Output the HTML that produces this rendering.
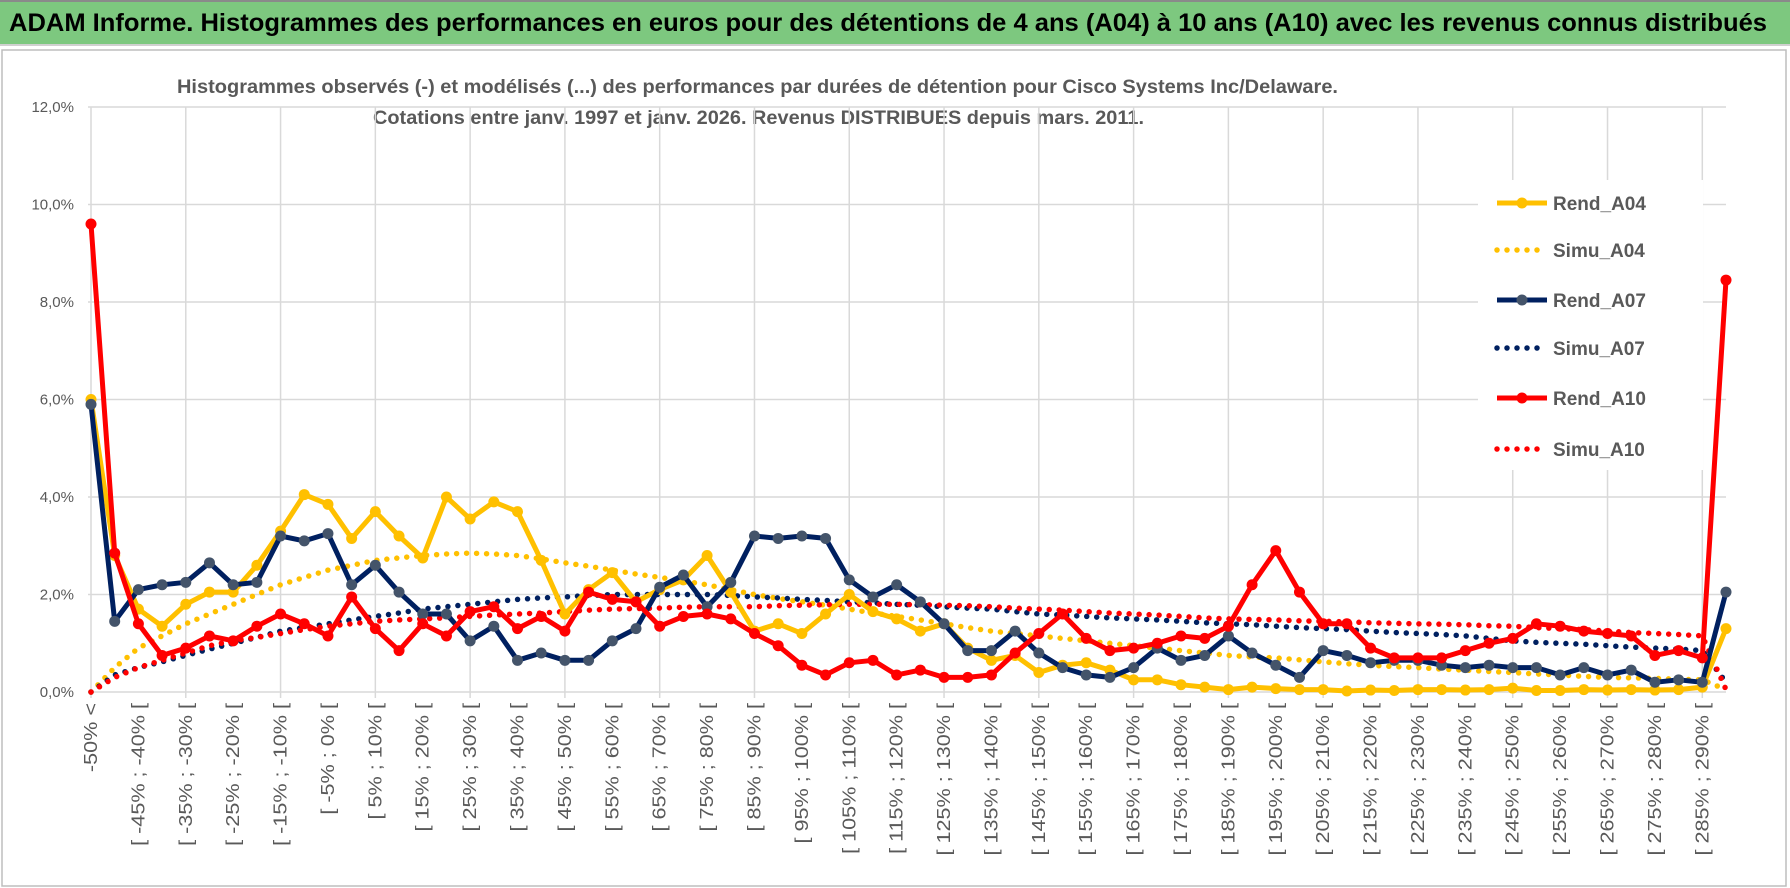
<!DOCTYPE html>
<html><head><meta charset="utf-8"><style>
html,body{margin:0;padding:0;background:#fff}
svg{display:block}
text{font-family:"Liberation Sans",sans-serif}
</style></head><body>
<svg id="chart" width="1790" height="888" viewBox="0 0 1790 888" xmlns="http://www.w3.org/2000/svg">
<rect x="0" y="0" width="1790" height="888" fill="#fff"/>
<rect x="0" y="0" width="1790" height="44" fill="#7DC87F"/>
<line x1="0" y1="1" x2="1790" y2="1" stroke="#8a8a8a" stroke-width="2"/>
<line x1="0" y1="45" x2="1790" y2="45" stroke="#d0d0d0" stroke-width="2"/>
<text x="9" y="31" font-size="25" font-weight="bold" fill="#000" textLength="1758" lengthAdjust="spacingAndGlyphs">ADAM Informe. Histogrammes des performances en euros pour des détentions de 4 ans (A04) à 10 ans (A10) avec les revenus connus distribués</text>
<rect x="2" y="50" width="1784" height="836" fill="#fff" stroke="#bdbdbd" stroke-width="1.5"/>
<text x="177" y="93" font-size="19" font-weight="bold" fill="#595959" textLength="1161" lengthAdjust="spacingAndGlyphs">Histogrammes observés (-) et modélisés (...) des performances par durées de détention pour Cisco Systems Inc/Delaware.</text>
<text x="373" y="124" font-size="19" font-weight="bold" fill="#595959" textLength="771" lengthAdjust="spacingAndGlyphs">Cotations entre janv. 1997 et janv. 2026. Revenus DISTRIBUES depuis mars. 2011.</text>
<g id="grid"></g>
<g id="axes"></g>
<g id="series"></g>
<g id="legend"></g>
</svg>
<script>
const rendA04 = [6.0,2.8,1.7,1.35,1.8,2.05,2.05,2.6,3.3,4.05,3.85,3.15,3.7,3.2,2.75,4.0,3.55,3.9,3.7,2.7,1.6,2.1,2.45,1.85,2.1,2.3,2.8,2.05,1.25,1.4,1.2,1.6,2.0,1.65,1.5,1.25,1.4,0.9,0.65,0.75,0.4,0.55,0.6,0.45,0.25,0.25,0.15,0.1,0.05,0.1,0.07,0.05,0.05,0.02,0.04,0.03,0.05,0.05,0.04,0.05,0.08,0.03,0.03,0.05,0.04,0.05,0.04,0.05,0.1,1.3];
const simuA04 = [0,0.5,0.9,1.15,1.4,1.6,1.8,2.0,2.2,2.35,2.5,2.6,2.7,2.75,2.8,2.83,2.85,2.83,2.8,2.73,2.65,2.58,2.5,2.42,2.35,2.28,2.2,2.1,2.0,1.92,1.85,1.78,1.7,1.62,1.55,1.48,1.4,1.32,1.25,1.2,1.15,1.1,1.05,1.0,0.95,0.9,0.85,0.8,0.75,0.72,0.7,0.66,0.62,0.58,0.55,0.52,0.5,0.47,0.45,0.42,0.4,0.37,0.35,0.32,0.3,0.29,0.28,0.26,0.25,0.05];
const rendA07 = [5.9,1.45,2.1,2.2,2.25,2.65,2.2,2.25,3.2,3.1,3.25,2.2,2.6,2.05,1.6,1.6,1.05,1.35,0.65,0.8,0.65,0.65,1.05,1.3,2.15,2.4,1.75,2.25,3.2,3.15,3.2,3.15,2.3,1.95,2.2,1.85,1.4,0.85,0.85,1.25,0.8,0.5,0.35,0.3,0.5,0.9,0.65,0.75,1.15,0.8,0.55,0.3,0.85,0.75,0.6,0.65,0.65,0.55,0.5,0.55,0.5,0.5,0.35,0.5,0.35,0.45,0.2,0.25,0.2,2.05];
const simuA07 = [0,0.35,0.5,0.62,0.75,0.88,1.0,1.12,1.25,1.32,1.4,1.48,1.55,1.62,1.7,1.75,1.8,1.85,1.9,1.93,1.95,1.98,2.0,2.0,2.0,2.0,2.0,1.98,1.95,1.93,1.9,1.88,1.85,1.83,1.8,1.78,1.75,1.72,1.7,1.65,1.6,1.58,1.55,1.52,1.5,1.48,1.45,1.42,1.4,1.38,1.35,1.32,1.3,1.28,1.25,1.22,1.2,1.18,1.15,1.1,1.05,1.02,1.0,0.98,0.95,0.92,0.9,0.88,0.85,0.2];
const rendA10 = [9.6,2.85,1.4,0.75,0.9,1.15,1.05,1.35,1.6,1.4,1.15,1.95,1.3,0.85,1.4,1.15,1.65,1.75,1.3,1.55,1.25,2.05,1.9,1.85,1.35,1.55,1.6,1.5,1.2,0.95,0.55,0.35,0.6,0.65,0.35,0.45,0.3,0.3,0.35,0.8,1.2,1.6,1.1,0.85,0.9,1.0,1.15,1.1,1.35,2.2,2.9,2.05,1.4,1.4,0.9,0.7,0.7,0.7,0.85,1.0,1.1,1.4,1.35,1.25,1.2,1.15,0.75,0.85,0.7,8.45];
const simuA10 = [0,0.3,0.5,0.65,0.8,0.95,1.05,1.12,1.2,1.28,1.35,1.4,1.45,1.48,1.5,1.52,1.55,1.58,1.6,1.62,1.65,1.68,1.7,1.71,1.72,1.74,1.75,1.75,1.75,1.77,1.78,1.79,1.8,1.8,1.8,1.79,1.78,1.77,1.75,1.72,1.7,1.68,1.65,1.62,1.6,1.58,1.55,1.52,1.5,1.49,1.48,1.46,1.45,1.44,1.42,1.41,1.4,1.39,1.38,1.36,1.35,1.32,1.3,1.28,1.25,1.22,1.2,1.18,1.15,0.05];
const yTicks = [0,2,4,6,8,10,12];
const yTickLabels = ["0,0%","2,0%","4,0%","6,0%","8,0%","10,0%","12,0%"];
const seriesNames = ["Rend_A04","Simu_A04","Rend_A07","Simu_A07","Rend_A10","Simu_A10"];

const NS="http://www.w3.org/2000/svg";
const X0=91, X1=1726, Y0=692, Y12=107;
const N=rendA04.length;
function xs(i){return X0+i*(X1-X0)/(N-1);}
function ys(v){return Y0-(v/12)*(Y0-Y12);}
function mk(tag,attrs,parent){const e=document.createElementNS(NS,tag);for(const k in attrs)e.setAttribute(k,attrs[k]);parent.appendChild(e);return e;}
function catLabel(i){if(i===0)return "-50% <";const lo=-50+5*(i-1);return "[ "+lo+"% ; "+(lo+5)+"% [";}

const grid=document.getElementById('grid'), axes=document.getElementById('axes'), series=document.getElementById('series'), legend=document.getElementById('legend');
yTicks.forEach((t,k)=>{
  const l=mk('line',{x1:X0-3,x2:X1,y1:ys(t),y2:ys(t),stroke:'#d9d9d9','stroke-width':1.5},grid);
  
  
  const tx=mk('text',{x:74,y:ys(t)+5,'font-size':15,fill:'#595959','text-anchor':'end'},axes);
  tx.textContent=yTickLabels[k];
  
  
});
for(let i=0;i<N;i+=4){
  const l=mk('line',{x1:xs(i),x2:xs(i),y1:Y12,y2:Y0+6,stroke:'#d9d9d9','stroke-width':1.5},grid);
  
  
}
for(let i=0;i<N-1;i+=2){
  const tx=mk('text',{x:0,y:0,'font-size':18,fill:'#595959','text-anchor':'end',transform:`translate(${xs(i)+6},703) rotate(-90)`},axes);
  tx.textContent=catLabel(i);
  
  
  const w=tx.getComputedTextLength();
  if(w>0){tx.setAttribute('textLength',(w*1.2).toFixed(1));tx.setAttribute('lengthAdjust','spacingAndGlyphs');}
}
function pts(arr){return arr.map((v,i)=>xs(i).toFixed(1)+','+ys(v).toFixed(1)).join(' ');}
function dotted(arr,color,name){
  const p=mk('polyline',{points:pts(arr),fill:'none',stroke:color,'stroke-width':5.5,'stroke-linecap':'round','stroke-dasharray':'0 10'},series);
  
  
}
function solid(arr,color,mcol,name){
  const p=mk('polyline',{points:pts(arr),fill:'none',stroke:color,'stroke-width':5,'stroke-linejoin':'round'},series);
  
  
  arr.forEach((v,i)=>{
    const c=mk('circle',{cx:xs(i),cy:ys(v),r:5.5,fill:mcol},series);
    
    
  });
}
dotted(simuA04,'#FFC000','simu-a04-line');
dotted(simuA07,'#002060','simu-a07-line');
dotted(simuA10,'#FF0000','simu-a10-line');
solid(rendA04,'#FFC000','#FFC000','rend-a04-line');
solid(rendA07,'#002060','#44546A','rend-a07-line');
solid(rendA10,'#FF0000','#FF0000','rend-a10-line');

const lb=mk('rect',{x:1478,y:180,width:225,height:290,fill:'#fff'},legend);


const legColors=['#FFC000','#FFC000','#002060','#002060','#FF0000','#FF0000'];
const legY=[203,250,300,348,398,449];
seriesNames.forEach((n,k)=>{
  const y=legY[k];
  const dashed=n.startsWith('Simu');
  const l=mk('line',{x1:1497,x2:1547,y1:y,y2:y,stroke:legColors[k],'stroke-width':dashed?5.5:5,'stroke-linecap':dashed?'round':'butt','stroke-dasharray':dashed?'0 10':'none'},legend);
  
  
  if(!dashed){
    const c=mk('circle',{cx:1522,cy:y,r:5.5,fill:k===2?'#44546A':legColors[k]},legend);
    
    
  }
  const t=mk('text',{x:1553,y:y+7,'font-size':19,'font-weight':'bold',fill:'#595959'},legend);
  t.textContent=n;
  
  
});
</script>
</body></html>
